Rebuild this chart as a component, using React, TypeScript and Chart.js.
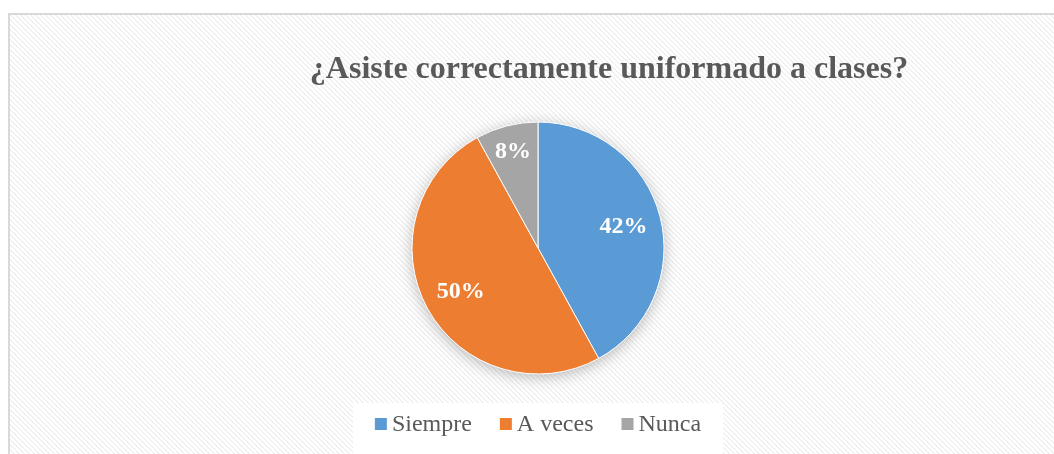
import React, { useEffect, useRef } from "react";
import { Chart, registerables } from "chart.js";

Chart.register(...registerables);

const TITLE = "¿Asiste correctamente uniformado a clases?";
const CATEGORIES = ["Siempre", "A veces", "Nunca"];
const VALUES = [42, 50, 8];
const COLORS = ["#5B9BD5", "#ED7D31", "#A5A5A5"];
const LABEL_RADIUS = [0.7, 0.7, 0.8];

const W = 1046;
const H = 441;
const TEXT_COLOR = "#595959";
const SERIF = '"Liberation Serif", "Times New Roman", serif';

function makePattern(ctx: CanvasRenderingContext2D) {
  const n = 5;
  const c = document.createElement("canvas");
  c.width = n;
  c.height = n;
  const p = c.getContext("2d")!;
  p.fillStyle = "#ffffff";
  p.fillRect(0, 0, n, n);
  p.fillStyle = "#f1f1f1";
  for (let y = 0; y < n; y++) {
    for (let x = 0; x < n; x++) {
      const d = (((x - y) % n) + n) % n;
      if (d < 2) p.fillRect(x, y, 1, 1);
    }
  }
  return ctx.createPattern(c, "repeat");
}

const framePlugin = {
  id: "frame",
  beforeDraw(chart: any) {
    const ctx = chart.ctx as CanvasRenderingContext2D;
    ctx.save();
    const pat = makePattern(ctx);
    ctx.fillStyle = pat || "#f7f7f7";
    ctx.fillRect(0, 0, chart.width, chart.height);
    ctx.strokeStyle = "#d9d9d9";
    ctx.lineWidth = 2;
    ctx.beginPath();
    ctx.moveTo(1, chart.height);
    ctx.lineTo(1, 1);
    ctx.lineTo(chart.width, 1);
    ctx.stroke();
    // title
    ctx.fillStyle = TEXT_COLOR;
    ctx.font = `bold 32px ${SERIF}`;
    ctx.textAlign = "center";
    ctx.textBaseline = "alphabetic";
    ctx.fillText(TITLE, 601, 65);
    ctx.restore();
  },
  beforeDatasetsDraw(chart: any) {
    const meta = chart.getDatasetMeta(0);
    const arc = meta.data[0];
    if (!arc) return;
    const { x, y, outerRadius } = arc.getProps(["x", "y", "outerRadius"], true);
    const ctx = chart.ctx as CanvasRenderingContext2D;
    ctx.save();
    ctx.shadowColor = "rgba(0,0,0,0.3)";
    ctx.shadowBlur = 16;
    ctx.shadowOffsetX = 0;
    ctx.shadowOffsetY = 3;
    ctx.fillStyle = "#bbbbbb";
    ctx.beginPath();
    ctx.arc(x, y, outerRadius - 1, 0, Math.PI * 2);
    ctx.fill();
    ctx.restore();
  },
  afterDatasetsDraw(chart: any) {
    const ctx = chart.ctx as CanvasRenderingContext2D;
    const meta = chart.getDatasetMeta(0);
    const data = chart.data.datasets[0].data as number[];
    ctx.save();
    ctx.fillStyle = "#ffffff";
    ctx.font = `bold 24px ${SERIF}`;
    ctx.textAlign = "center";
    ctx.textBaseline = "middle";
    meta.data.forEach((el: any, i: number) => {
      const { x, y, startAngle, endAngle, outerRadius } = el.getProps(
        ["x", "y", "startAngle", "endAngle", "outerRadius"],
        true
      );
      const mid = (startAngle + endAngle) / 2;
      const r = outerRadius * LABEL_RADIUS[i];
      ctx.fillText(`${data[i]}%`, x + Math.cos(mid) * r, y + Math.sin(mid) * r + 1);
    });
    ctx.restore();

    // legend
    const labels = chart.data.labels as string[];
    const colors = chart.data.datasets[0].backgroundColor as string[];
    const cx = (chart.chartArea.left + chart.chartArea.right) / 2;
    ctx.save();
    ctx.fillStyle = "#ffffff";
    ctx.fillRect(cx - 185, 390, 370, chart.height - 390);
    ctx.font = `24px ${SERIF}`;
    const box = 12;
    const gap = 5;
    const itemGap = 28;
    const widths = labels.map((l) => ctx.measureText(l).width);
    const total =
      widths.reduce((a, w) => a + box + gap + w, 0) + itemGap * (labels.length - 1);
    let x = cx - total / 2;
    const baseline = 418;
    labels.forEach((l, i) => {
      ctx.fillStyle = colors[i];
      ctx.fillRect(x, baseline - 13, box, box);
      x += box + gap;
      ctx.fillStyle = TEXT_COLOR;
      ctx.textAlign = "left";
      ctx.textBaseline = "alphabetic";
      ctx.fillText(l, x, baseline);
      x += widths[i] + itemGap;
    });
    ctx.restore();
  },
};

export default function App() {
  const ref = useRef<HTMLCanvasElement>(null);
  useEffect(() => {
    if (!ref.current) return;
    const chart = new Chart(ref.current, {
      type: "pie",
      data: {
        labels: CATEGORIES,
        datasets: [
          {
            data: VALUES,
            backgroundColor: COLORS,
            borderColor: "#ffffff",
            borderWidth: 1,
            hoverOffset: 0,
          },
        ],
      },
      options: {
        responsive: false,
        animation: false,
        radius: 126,
        layout: { padding: { left: 404, right: 390, top: 109, bottom: 80 } },
        plugins: {
          legend: { display: false },
          title: { display: false },
          tooltip: { enabled: false },
        },
        events: [],
      } as any,
      plugins: [framePlugin],
    });
    return () => chart.destroy();
  }, []);
  return (
    <div style={{ position: "absolute", left: 8, top: 13, width: W, height: H, overflow: "hidden" }}>
      <canvas ref={ref} width={W} height={H} style={{ display: "block" }} />
    </div>
  );
}
